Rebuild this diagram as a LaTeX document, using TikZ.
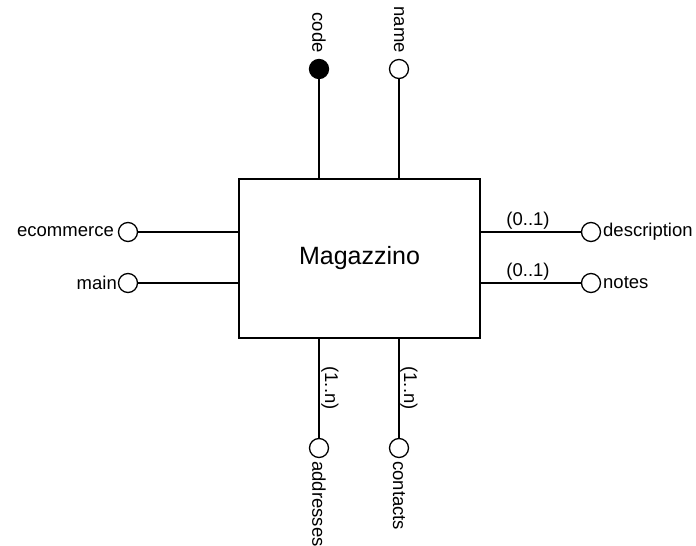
\documentclass[tikz,border=0pt]{standalone}
\usepackage{fontspec}
\setmainfont{Liberation Sans}
\begin{document}
\begin{tikzpicture}[x=1pt,y=-1pt,
  lbl/.style={font=\fontsize{18.5}{20}\selectfont, inner sep=0pt},
  attr/.style={circle, draw, line width=1.3pt, minimum size=19pt, inner sep=0pt, fill=white},
  key/.style={attr, fill=black},
  conn/.style={line width=1.3pt},
  entity/.style={draw, line width=1.8pt, minimum width=241pt, minimum height=159pt, inner sep=0pt, font=\fontsize{25}{28}\selectfont}]
\useasboundingbox (0,0) rectangle (696,546);
\node[entity] (box) at (359.5,258.5) {Magazzino};
% top
\node[key] (code) at (319,69) {};
\node[attr] (name) at (399,69) {};
\draw[conn] (code) -- (code |- box.north);
\draw[conn] (name) -- (name |- box.north);
\node[lbl, rotate=-90, anchor=east] (codel) at (319,53) {code};
\node[lbl, rotate=-90, anchor=east] (namel) at (399,53) {name};
% left
\node[attr] (ecom) at (128,232) {};
\node[attr] (main) at (128,283) {};
\draw[conn] (ecom) -- (ecom -| box.west);
\draw[conn] (main) -- (main -| box.west);
\node[lbl, anchor=east] (ecoml) at (114,232) {ecommerce};
\node[lbl, anchor=east] (mainl) at (117,283) {main};
% right
\node[attr] (desc) at (591,232) {};
\node[attr] (notes) at (591,283) {};
\draw[conn] (desc) -- (desc -| box.east);
\draw[conn] (notes) -- (notes -| box.east);
\node[lbl, anchor=west] (descl) at (603,232) {description};
\node[lbl, anchor=west] (notesl) at (603,283) {notes};
\node[lbl] (m1) at (528,221) {(0..1)};
\node[lbl] (m2) at (528,272) {(0..1)};
% bottom
\node[attr] (addr) at (319,448) {};
\node[attr] (cont) at (399,448) {};
\draw[conn] (addr) -- (addr |- box.south);
\draw[conn] (cont) -- (cont |- box.south);
\node[lbl, rotate=-90] (m3) at (330,388) {(1..n)};
\node[lbl, rotate=-90] (m4) at (409,388) {(1..n)};
\node[lbl, rotate=-90, anchor=west] (addrl) at (319,461) {addresses};
\node[lbl, rotate=-90, anchor=west] (contl) at (399,461) {contacts};
\end{tikzpicture}
\end{document}
